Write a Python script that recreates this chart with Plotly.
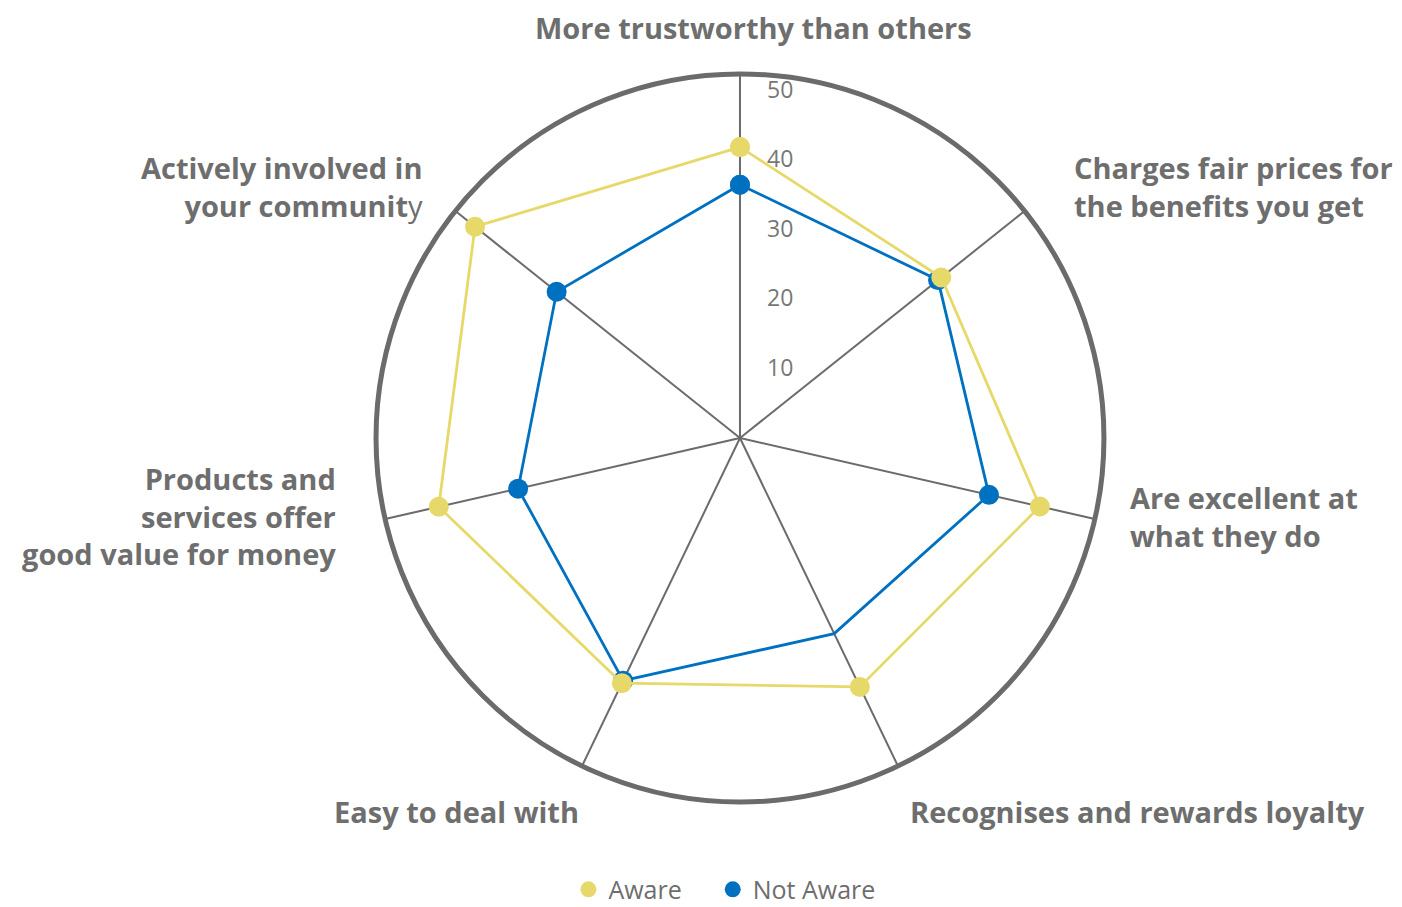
import plotly.graph_objects as go

categories = [
    "More trustworthy than others",
    "Charges fair prices for the benefits you get",
    "Are excellent at what they do",
    "Recognises and rewards loyalty",
    "Easy to deal with",
    "Products and services offer good value for money",
    "Actively involved in your community",
]
aware = [41.8, 37.0, 44.2, 39.7, 39.1, 44.4, 48.7]
not_aware = [36.4, 36.4, 36.7, 31.2, 38.7, 32.7, 33.7]
radial_ticks = [10, 20, 30, 40, 50]

YELLOW = "#E6D96A"
BLUE = "#0070C0"
GREY = "#6B6B6B"
TEXT = "#6E6E6E"

# label text as laid out on the chart (line breaks / alignment)
label_text = [
    "<b>More trustworthy than others</b>",
    "<b>Charges fair prices for<br>the benefits you get</b>",
    "<b>Are excellent at<br>what they do</b>",
    "<b>Recognises and rewards loyalty</b>",
    "<b>Easy to deal with</b>",
    "<b>Products and<br>services offer<br>good value for money</b>",
    "<b>Actively involved in<br>your communit</b>y",
]
label_pos = [
    (0.5314, 0.978, "center"),
    (0.7589, 0.8037, "left"),
    (0.7989, 0.4399, "left"),
    (0.6419, 0.1136, "left"),
    (0.4087, 0.1136, "right"),
    (0.2354, 0.4399, "right"),
    (0.2974, 0.8037, "right"),
]

fig = go.Figure()

# closed loops (Not Aware underneath)
theta = categories + categories[:1]
na_sizes = [20, 20, 20, 0, 20, 20, 20, 20]
fig.add_trace(go.Scatterpolar(
    r=not_aware + not_aware[:1], theta=theta, mode="lines+markers", name="Not Aware",
    line=dict(color=BLUE, width=2.8),
    marker=dict(color=BLUE, size=na_sizes, opacity=1, line=dict(width=0)),
    showlegend=False,
))
fig.add_trace(go.Scatterpolar(
    r=aware + aware[:1], theta=theta, mode="lines+markers", name="Aware",
    line=dict(color=YELLOW, width=2.8),
    marker=dict(color=YELLOW, size=20, opacity=1, line=dict(width=0)),
    showlegend=False,
))
# legend entries: dots only
for nm, col in [("Aware&nbsp;&nbsp;&nbsp;&nbsp;", YELLOW), ("Not Aware", BLUE)]:
    fig.add_trace(go.Scatterpolar(
        r=[None], theta=[categories[0]], mode="markers", name=nm,
        marker=dict(color=col, size=18, line=dict(width=0)),
    ))

for txt, (x, y, anchor) in zip(label_text, label_pos):
    fig.add_annotation(
        text=txt, x=x, y=y, xref="paper", yref="paper",
        xanchor=anchor, yanchor="middle", align=anchor,
        showarrow=False,
        font=dict(family="Open Sans", size=29, color=TEXT),
    )

fig.update_layout(
    width=1402, height=907,
    margin=dict(l=0, r=0, t=0, b=0),
    paper_bgcolor="white", plot_bgcolor="white",
    font=dict(family="Open Sans", color=TEXT),
    polar=dict(
        domain=dict(x=[0.2625, 0.7817], y=[0.1246, 0.9272]),
        bgcolor="white",
        radialaxis=dict(
            range=[0, 52.3], tickvals=radial_ticks, angle=90, tickangle=90,
            showline=False, showgrid=False, ticks="outside", ticklen=22,
            tickcolor="rgba(0,0,0,0)", side="clockwise",
            tickfont=dict(size=23, color="#777777"),
        ),
        angularaxis=dict(
            direction="clockwise", rotation=90,
            showgrid=True, gridcolor=GREY, gridwidth=2,
            showline=True, linecolor=GREY, linewidth=5,
            showticklabels=False, ticks="",
        ),
    ),
    legend=dict(
        orientation="h", x=0.511, y=0.028, xanchor="center", yanchor="middle",
        font=dict(size=25, color=TEXT), itemsizing="trace",
    ),
)

fig.write_html("out.html")
